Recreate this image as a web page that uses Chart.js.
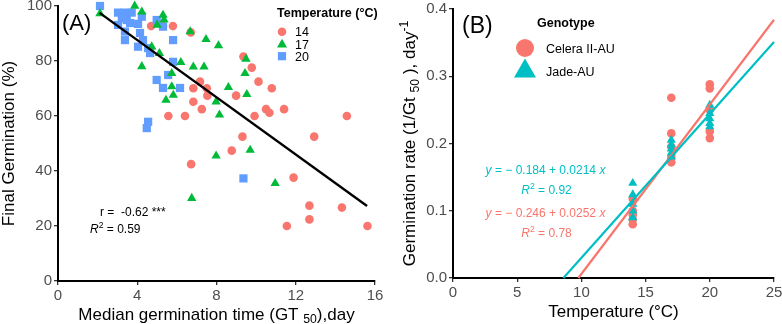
<!DOCTYPE html>
<html><head><meta charset="utf-8">
<script src="https://cdn.jsdelivr.net/npm/chart.js@4.4.0/dist/chart.umd.min.js"></script>
<style>
html,body{margin:0;padding:0;background:#fff;}
#wrap{position:relative;width:782px;height:324px;overflow:hidden;}
#ca{position:absolute;left:0;top:0;}
#cb{position:absolute;left:390px;top:0;}
</style></head><body>
<div id="wrap"><canvas id="ca" width="390" height="324"></canvas><canvas id="cb" width="392" height="324"></canvas></div>
<script>
// ---------------- Panel A data ----------------
const t14_gt50 = [4.7,5.3,5.8,6.7,9.36,9.78,7.17,10.12,10.79,6.83,7.51,8.99,7.54,6.83,7.26,6.41,5.57,9.92,10.5,10.67,11.41,14.58,9.31,12.93,8.77,6.72,11.89,12.69,12.69,14.33,11.55,15.62];
const t14_fg   = [92.7,92.7,92.7,90.4,81.6,77.6,72.5,72.5,70.1,70.1,70.1,67.4,67.4,65.2,62.5,60,60,60,62.5,61.2,62.5,60,52.5,52.5,47.4,42.5,37.6,27.4,22.4,26.7,20,20];
const t17_gt50 = [3.87,2.12,4.23,5.0,5.3,5.35,4.23,4.73,5.12,5.74,6.2,6.83,6.67,5.74,5.82,5.45,7.47,8.10,7.37,9.49,9.44,8.60,9.53,7.98,8.15,9.70,7.98,6.75,10.96];
const t17_fg   = [100,97.3,97.9,93.1,96.7,95,78,85.2,82.8,75.5,79.5,77.9,90.7,70.7,67.6,65.8,87.9,85.6,77.9,80.7,75.5,70.4,67.9,65.2,60.4,47.6,45.5,30.1,35.5];
const t20_gt50 = [2.12,3.03,3.38,3.72,3.22,3.47,3.03,3.64,3.38,4.04,4.23,4.14,3.38,4.04,4.29,4.55,4.65,4.98,5.30,5.81,5.81,5.56,4.98,5.30,6.16,4.55,4.48,9.36];
const t20_fg   = [100,97.6,97.6,97.6,95.5,94.9,93.1,93.8,90.7,93.5,96.1,90.2,87.6,85.2,87.6,84.7,82.9,94.9,92.5,87.6,79.7,74.9,73.1,70.2,70.2,57.9,55.6,37.3];
const fitA_x = [2.1, 15.6];
const fitA_y = [97.5, 27.3];
const tempLabels = ['14','17','20'];

// ---------------- Panel B data ----------------
const celera_temp = [14,14,14,14,14,17,17,17,17,17,20,20,20,20,20];
const celera_rate = [0.118,0.100,0.094,0.087,0.080,0.268,0.215,0.195,0.180,0.172,0.288,0.282,0.250,0.218,0.208];
const jade_temp   = [14,14,14,14,14,17,17,17,17,17,20,20,20,20,20];
const jade_rate   = [0.141,0.124,0.110,0.100,0.090,0.205,0.198,0.192,0.186,0.180,0.257,0.245,0.237,0.230,0.225];
const celera_fit = [-0.246, 0.0252];  // intercept, slope
const jade_fit   = [-0.184, 0.0214];
const genotypes = ['Celera II-AU','Jade-AU'];

const RED='#F8766D', GREEN='#00BA38', BLUE='#619CFF', TEAL='#00BFC4';
const FF='"Liberation Sans", Arial, Helvetica, sans-serif';
const TICKFONT={family:FF,size:15};

function pts(xs,ys){return xs.map((x,i)=>({x:x,y:ys[i]}));}
function fitLine(f,x0,x1){return [{x:x0,y:f[0]+f[1]*x0},{x:x1,y:f[0]+f[1]*x1}];}

function segFont(s,size){const sz=s.pos?size*0.72:size;return (s.it?'italic ':'')+(s.b?'bold ':'')+sz+'px '+FF;}
function drawRich(ctx,segs,x,y,size,color,align,rot){
  ctx.save();ctx.translate(x,y);if(rot)ctx.rotate(rot);
  let w=0;const ws=[];
  for(const s of segs){ctx.font=segFont(s,size);const m=ctx.measureText(s.t).width;ws.push(m);w+=m;}
  let cx=align==='center'?-w/2:align==='right'?-w:0;
  ctx.fillStyle=color;ctx.textBaseline='alphabetic';ctx.textAlign='left';
  const base=size*0.36;
  segs.forEach((s,i)=>{ctx.font=segFont(s,size);const dy=s.pos==='sub'?size*0.22:s.pos==='sup'?-size*0.42:0;ctx.fillText(s.t,cx,base+dy);cx+=ws[i];});
  ctx.restore();
}
function drawMarker(ctx,type,x,y,s,color){
  ctx.save();ctx.fillStyle=color;ctx.beginPath();
  if(type==='circle'){ctx.arc(x,y,s,0,Math.PI*2);}
  else if(type==='triangle'){const h=s*0.866*2;ctx.moveTo(x,y-h*0.6);ctx.lineTo(x+s,y+h*0.4);ctx.lineTo(x-s,y+h*0.4);ctx.closePath();}
  else {ctx.rect(x-s,y-s,2*s,2*s);}
  ctx.fill();ctx.restore();
}

function axisCfg(min,max,step,fmt,fitFn){
  return {type:'linear',min:min,max:max,
    ticks:{stepSize:step,color:'#4d4d4d',font:TICKFONT,padding:2,callback:fmt},
    grid:{display:true,drawOnChartArea:false,drawTicks:true,tickLength:4,color:'#333',tickColor:'#333',lineWidth:1.3},
    border:{display:true,color:'#000',width:2},
    afterFit:fitFn};
}

// ---------------- Chart A ----------------
const decorA={id:'decorA',afterDraw(chart){
  const ctx=chart.ctx,ca=chart.chartArea;
  drawRich(ctx,[{t:'(A)'}],62,22,22,'#000','left');
  drawRich(ctx,[{t:'r =  -0.62 ***'}],100,212,12,'#000','left');
  drawRich(ctx,[{t:'R',it:true},{t:'2',pos:'sup'},{t:' = 0.59'}],90,229,12,'#000','left');
  drawRich(ctx,[{t:'Temperature (°C)',b:true}],277,12,12.5,'#000','left');
  const cols=[RED,GREEN,BLUE],types=['circle','triangle','rect'],sz=[4.3,5,4.1];
  tempLabels.forEach((l,i)=>{const y=31.8+i*12.2;drawMarker(ctx,types[i],282,y,sz[i],cols[i]);drawRich(ctx,[{t:l}],295,y,12.5,'#000','left');});
  drawRich(ctx,[{t:'Median germination time (GT '},{t:'50',pos:'sub'},{t:'),day'}],(ca.left+ca.right)/2,313.5,17,'#000','center');
  drawRich(ctx,[{t:'Final Germination (%)'}],8,(ca.top+ca.bottom)/2,17,'#000','center',-Math.PI/2);
}};

new Chart(document.getElementById('ca'),{
  type:'scatter',
  data:{datasets:[
    {type:'line',data:pts(fitA_x,fitA_y),borderColor:'#000',borderWidth:2.4,pointRadius:0,fill:false,clip:false},
    {data:pts(t17_gt50,t17_fg),pointStyle:'triangle',pointRadius:5.4,backgroundColor:GREEN,borderWidth:0,clip:false},
    {data:pts(t20_gt50,t20_fg),pointStyle:'rect',pointRadius:5.8,backgroundColor:BLUE,borderWidth:0,clip:false},
    {data:pts(t14_gt50,t14_fg),pointStyle:'circle',pointRadius:4.3,backgroundColor:RED,borderWidth:0,clip:false}
  ]},
  options:{responsive:false,devicePixelRatio:1,animation:false,
    layout:{padding:{left:0,top:6,right:15,bottom:0}},
    plugins:{legend:{display:false},tooltip:{enabled:false}},
    scales:{
      x:axisCfg(0,16,4,v=>String(v),s=>{s.height=43;s.paddingLeft=0;s.paddingRight=0;}),
      y:axisCfg(0,100,20,v=>String(v),s=>{s.width=58;s.paddingTop=0;s.paddingBottom=0;})
    }},
  plugins:[decorA]
});

// ---------------- Chart B ----------------
const decorB={id:'decorB',afterDraw(chart){
  const ctx=chart.ctx,ca=chart.chartArea;
  drawRich(ctx,[{t:'(B)'}],72,25,23,'#000','left');
  drawRich(ctx,[{t:'Genotype',b:true}],147,22,12.5,'#000','left');
  drawMarker(ctx,'circle',135,48,9,RED);
  drawRich(ctx,[{t:genotypes[0]}],156,48,12.5,'#000','left');
  drawMarker(ctx,'triangle',135,70,11,TEAL);
  drawRich(ctx,[{t:genotypes[1]}],156,71,12.5,'#000','left');
  const cx=155.5;
  drawRich(ctx,[{t:'y',it:true},{t:' = − 0.184 + 0.0214 '},{t:'x',it:true}],cx,170,12,TEAL,'center');
  drawRich(ctx,[{t:'R',it:true},{t:'2',pos:'sup'},{t:' = 0.92'}],cx+1,190,12,TEAL,'center');
  drawRich(ctx,[{t:'y',it:true},{t:' = − 0.246 + 0.0252 '},{t:'x',it:true}],cx,213,12,RED,'center');
  drawRich(ctx,[{t:'R',it:true},{t:'2',pos:'sup'},{t:' = 0.78'}],cx+1,233,12,RED,'center');
  drawRich(ctx,[{t:'Temperature (°C)'}],(ca.left+ca.right)/2,311,17,'#000','center');
  drawRich(ctx,[{t:'Germination rate (1/Gt '},{t:'50',pos:'sub'},{t:' ), day'},{t:'-1',pos:'sup'}],19,(ca.top+ca.bottom)/2,17,'#000','center',-Math.PI/2);
}};

new Chart(document.getElementById('cb'),{
  type:'scatter',
  data:{datasets:[
    {type:'line',data:fitLine(jade_fit,-jade_fit[0]/jade_fit[1],25),borderColor:TEAL,borderWidth:2.2,pointRadius:0,fill:false,clip:false},
    {type:'line',data:fitLine(celera_fit,-celera_fit[0]/celera_fit[1],25),borderColor:RED,borderWidth:2.2,pointRadius:0,fill:false,clip:false},
    {data:pts(jade_temp,jade_rate),pointStyle:'triangle',pointRadius:5.3,backgroundColor:TEAL,borderWidth:0,clip:false},
    {data:pts(celera_temp,celera_rate),pointStyle:'circle',pointRadius:4.3,backgroundColor:RED,borderWidth:0,clip:false}
  ]},
  options:{responsive:false,devicePixelRatio:1,animation:false,
    layout:{padding:{left:0,top:9,right:8,bottom:0}},
    plugins:{legend:{display:false},tooltip:{enabled:false}},
    scales:{
      x:axisCfg(0,25,5,v=>String(v),s=>{s.height=46;s.paddingLeft=0;s.paddingRight=0;}),
      y:axisCfg(0,0.4,0.1,v=>v.toFixed(1),s=>{s.width=63;s.paddingTop=0;s.paddingBottom=0;})
    }},
  plugins:[decorB]
});
</script>
</body></html>
